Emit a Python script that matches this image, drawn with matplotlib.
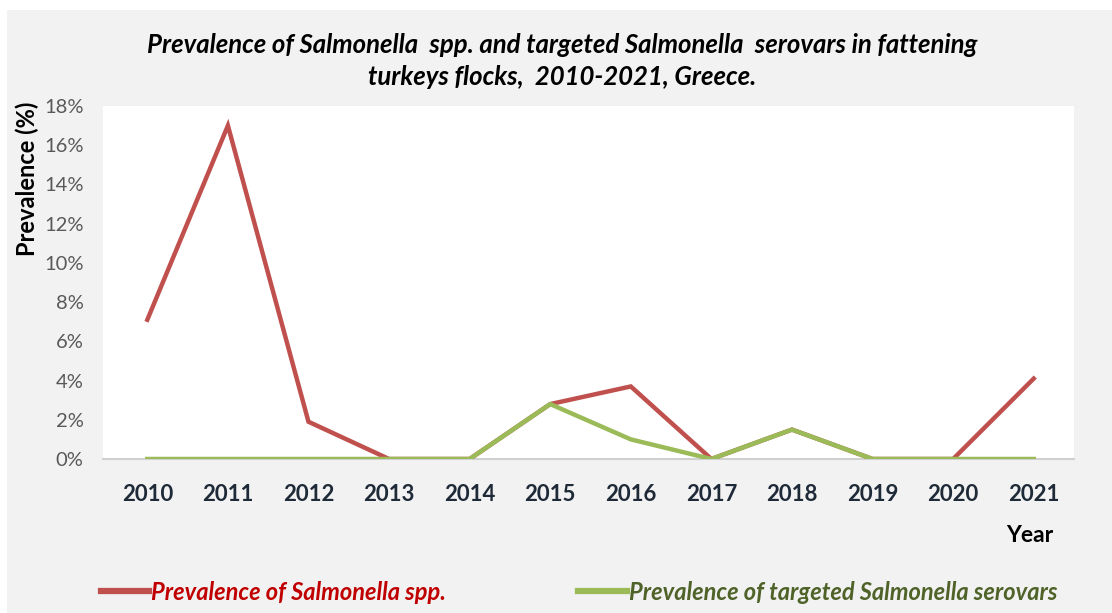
import matplotlib
matplotlib.use("Agg")
import matplotlib.pyplot as plt
from matplotlib.patches import Rectangle
from matplotlib.ticker import FuncFormatter

years = ["2010", "2011", "2012", "2013", "2014", "2015", "2016", "2017", "2018", "2019", "2020", "2021"]
salmonella_spp = [7.1, 17.0, 1.9, 0.0, 0.0, 2.8, 3.7, 0.0, 1.5, 0.0, 0.0, 4.1]
targeted_serovars = [0.0, 0.0, 0.0, 0.0, 0.0, 2.8, 1.0, 0.0, 1.5, 0.0, 0.0, 0.0]
yticks = [0, 2, 4, 6, 8, 10, 12, 14, 16, 18]

plt.rcParams['font.family'] = ['Lato', 'DejaVu Sans']

W, H = 1112, 613
fig = plt.figure(figsize=(W / 100, H / 100), dpi=100, facecolor='white')
fig.patches.append(Rectangle((7 / W, 0), 1 - 7 / W, 1 - 10 / H, transform=fig.transFigure,
                             facecolor='#f2f2f2', edgecolor='none', zorder=-10))

ax = fig.add_axes([103 / W, (H - 459) / H, (1074 - 103) / W, (459 - 106) / H])
ax.set_facecolor('white')
x = list(range(len(years)))
l1, = ax.plot(x, salmonella_spp, color='#c0504d', lw=3.2, solid_joinstyle='miter', zorder=3,
              label='Prevalence of Salmonella spp.')
l2, = ax.plot(x, targeted_serovars, color='#9bbb59', lw=3.2, solid_joinstyle='miter', zorder=4,
              label='Prevalence of targeted Salmonella serovars')
ax.set_xlim(-0.55, 11.5)
ax.set_ylim(0, 18)
ax.set_xticks(x)
ax.set_xticklabels(years, fontsize=16, fontweight='bold', color='#1f2a38')
ax.set_yticks(yticks)
ax.yaxis.set_major_formatter(FuncFormatter(lambda v, p: f"{int(v)}%"))
for lab in ax.get_yticklabels():
    lab.set_fontsize(14.5)
    lab.set_color('#595959')
ax.tick_params(axis='both', length=0)
ax.tick_params(axis='x', pad=18)
ax.tick_params(axis='y', pad=14)
for s in ['top', 'right', 'left']:
    ax.spines[s].set_visible(False)
ax.spines['bottom'].set_color('#d0d0d0')
ax.spines['bottom'].set_linewidth(1.5)
ax.spines['bottom'].set_zorder(2)

fig.text(562 / W, 1 - 45 / H,
         "Prevalence of Salmonella  spp. and targeted Salmonella  serovars in fattening",
         ha='center', va='center', fontsize=18.5, fontweight='bold', fontstyle='italic', color='black')
fig.text(562 / W, 1 - 77 / H, "turkeys flocks,  2010-2021, Greece.",
         ha='center', va='center', fontsize=18.5, fontweight='bold', fontstyle='italic', color='black')

fig.text(27 / W, 1 - 179 / H, "Prevalence (%)", rotation=90, ha='center', va='center',
         fontsize=17, fontweight='bold', color='black')
fig.text(1030 / W, 1 - 535 / H, "Year", ha='center', va='center',
         fontsize=16.5, fontweight='bold', color='black')

leg = fig.legend(handles=[l1, l2], loc='center left', bbox_to_anchor=(101 / W, 1 - 592 / H),
                 ncol=2, frameon=False, handlelength=2.05, handletextpad=0.08, columnspacing=5.6,
                 borderaxespad=0, borderpad=0,
                 prop={'size': 17, 'weight': 'bold', 'style': 'italic'},
                 labelcolor=['#c00000', '#4f6228'])
for h in leg.legend_handles:
    h.set_linewidth(4.5)

fig.savefig('out.png', dpi=100, facecolor=fig.get_facecolor())
